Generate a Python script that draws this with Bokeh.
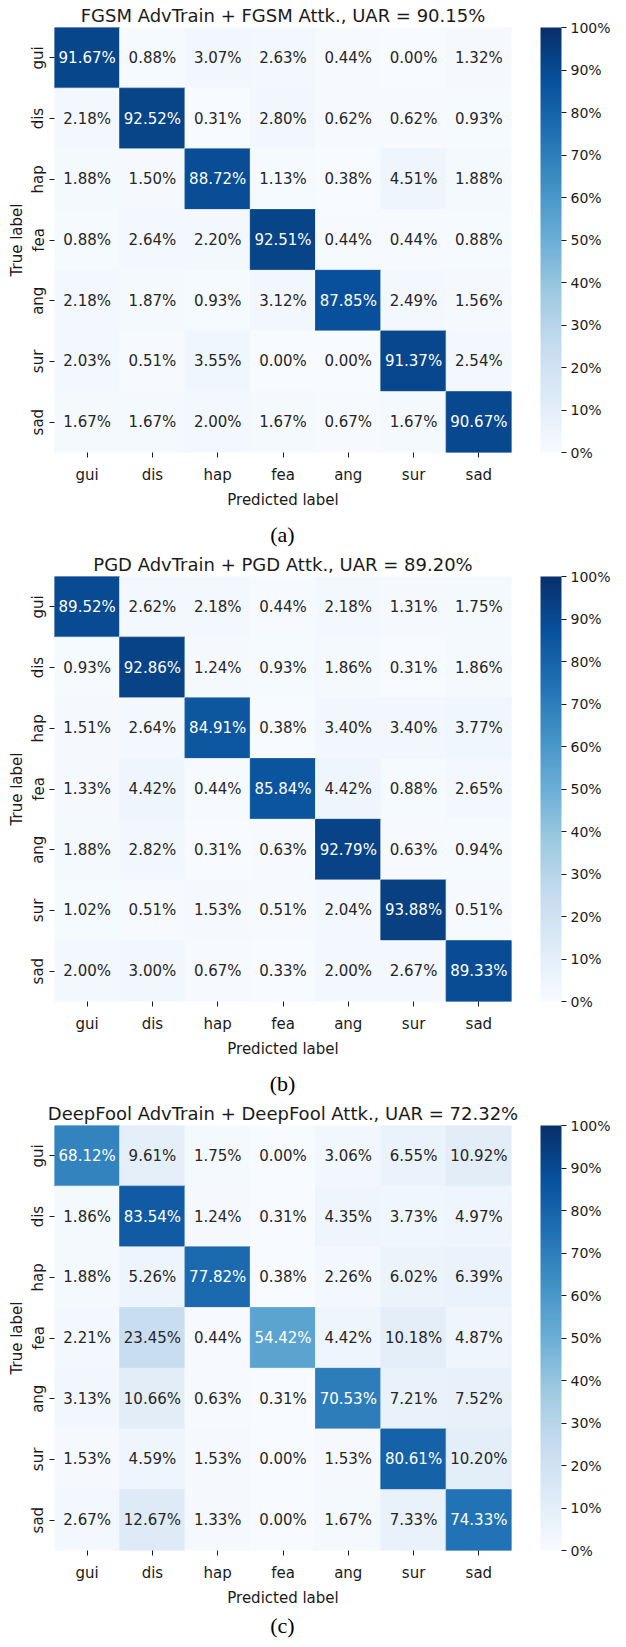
from bokeh.plotting import figure
from bokeh.layouts import column
from bokeh.models import (FactorRange, ColumnDataSource, ColorBar, LinearColorMapper,
                          FixedTicker, Div)
from bokeh.core.properties import value
from bokeh.transform import linear_cmap
from bokeh.embed import file_html
from bokeh.resources import INLINE

# ---------------- data ----------------
labels = ["gui", "dis", "hap", "fea", "ang", "sur", "sad"]

titles = [
    "FGSM AdvTrain + FGSM Attk., UAR = 90.15%",
    "PGD AdvTrain + PGD Attk., UAR = 89.20%",
    "DeepFool AdvTrain + DeepFool Attk., UAR = 72.32%",
]
captions = ["(a)", "(b)", "(c)"]

fgsm = [
    [91.67, 0.88, 3.07, 2.63, 0.44, 0.00, 1.32],
    [2.18, 92.52, 0.31, 2.80, 0.62, 0.62, 0.93],
    [1.88, 1.50, 88.72, 1.13, 0.38, 4.51, 1.88],
    [0.88, 2.64, 2.20, 92.51, 0.44, 0.44, 0.88],
    [2.18, 1.87, 0.93, 3.12, 87.85, 2.49, 1.56],
    [2.03, 0.51, 3.55, 0.00, 0.00, 91.37, 2.54],
    [1.67, 1.67, 2.00, 1.67, 0.67, 1.67, 90.67],
]
pgd = [
    [89.52, 2.62, 2.18, 0.44, 2.18, 1.31, 1.75],
    [0.93, 92.86, 1.24, 0.93, 1.86, 0.31, 1.86],
    [1.51, 2.64, 84.91, 0.38, 3.40, 3.40, 3.77],
    [1.33, 4.42, 0.44, 85.84, 4.42, 0.88, 2.65],
    [1.88, 2.82, 0.31, 0.63, 92.79, 0.63, 0.94],
    [1.02, 0.51, 1.53, 0.51, 2.04, 93.88, 0.51],
    [2.00, 3.00, 0.67, 0.33, 2.00, 2.67, 89.33],
]
deepfool = [
    [68.12, 9.61, 1.75, 0.00, 3.06, 6.55, 10.92],
    [1.86, 83.54, 1.24, 0.31, 4.35, 3.73, 4.97],
    [1.88, 5.26, 77.82, 0.38, 2.26, 6.02, 6.39],
    [2.21, 23.45, 0.44, 54.42, 4.42, 10.18, 4.87],
    [3.13, 10.66, 0.63, 0.31, 70.53, 7.21, 7.52],
    [1.53, 4.59, 1.53, 0.00, 1.53, 80.61, 10.20],
    [2.67, 12.67, 1.33, 0.00, 1.67, 7.33, 74.33],
]
matrices = [fgsm, pgd, deepfool]

cbar_ticks = [0, 10, 20, 30, 40, 50, 60, 70, 80, 90, 100]

# ---------------- palette (matplotlib "Blues") ----------------
blues_anchor = [
    (0.96862745, 0.98431373, 1.0),
    (0.87058824, 0.92156863, 0.96862745),
    (0.77647059, 0.85882353, 0.93725490),
    (0.61960784, 0.79215686, 0.88235294),
    (0.41960784, 0.68235294, 0.83921569),
    (0.25882353, 0.57254902, 0.77647059),
    (0.12941176, 0.44313725, 0.70980392),
    (0.03137255, 0.31764706, 0.61176471),
    (0.03137255, 0.18823529, 0.41960784),
]


def build_palette(anchors, n=256):
    out_hex, out_rgb = [], []
    m = len(anchors) - 1
    for i in range(n):
        t = i / (n - 1) * m
        k = min(int(t), m - 1)
        f = t - k
        c = [anchors[k][j] + (anchors[k + 1][j] - anchors[k][j]) * f for j in range(3)]
        out_rgb.append(c)
        out_hex.append("#%02x%02x%02x" % tuple(int(round(v * 255)) for v in c))
    return out_hex, out_rgb


palette, palette_rgb = build_palette(blues_anchor)


def text_color_for(v):
    idx = min(int(v / 100.0 * 256), 255)
    r, g, b = palette_rgb[idx]

    def lin(c):
        return c / 12.92 if c <= 0.03928 else ((c + 0.055) / 1.055) ** 2.4

    lum = 0.2126 * lin(r) + 0.7152 * lin(g) + 0.0722 * lin(b)
    return "#262626" if lum > 0.408 else "#ffffff"


FONT = "DejaVu Sans"
TXT = "#1a1a1a"


def make_panel(mat, title):
    xs, ys, vals, txt, tcol = [], [], [], [], []
    for i, t in enumerate(labels):
        for j, pl in enumerate(labels):
            v = mat[i][j]
            xs.append(pl)
            ys.append(t)
            vals.append(v)
            txt.append("%.2f%%" % v)
            tcol.append(text_color_for(v))
    src = ColumnDataSource(dict(pred=xs, true=ys, value=vals, label=txt, tcolor=tcol))

    p = figure(frame_width=457, frame_height=425,
               x_range=FactorRange(*labels), y_range=FactorRange(*reversed(labels)),
               output_backend="svg", toolbar_location=None,
               min_border_left=54, min_border_top=25, min_border_bottom=62, min_border_right=40)
    p.outline_line_color = None
    p.xgrid.grid_line_color = None
    p.ygrid.grid_line_color = None

    cmap = linear_cmap("value", palette, 0, 100)
    p.rect(x="pred", y="true", width=1, height=1, source=src,
           fill_color=cmap, line_color=cmap, line_width=1)
    p.text(x="pred", y="true", text="label", source=src,
           text_align="center", text_baseline="middle",
           text_font=value(FONT), text_font_size="15px", text_color="tcolor")

    p.title.text = title
    p.title.align = "center"
    p.title.text_font = FONT
    p.title.text_font_size = "18px"
    p.title.text_font_style = "normal"
    p.title.text_color = TXT
    p.title.standoff = 4

    for ax in (p.xaxis[0], p.yaxis[0]):
        ax.axis_line_color = None
        ax.major_tick_out = 5
        ax.major_tick_in = 0
        ax.major_tick_line_color = TXT
        ax.major_label_text_font = FONT
        ax.major_label_text_font_size = "15px"
        ax.major_label_text_color = TXT
        ax.axis_label_text_font = FONT
        ax.axis_label_text_font_size = "15px"
        ax.axis_label_text_font_style = "normal"
        ax.axis_label_text_color = TXT
    p.xaxis.major_label_standoff = 8
    p.xaxis.axis_label_standoff = 4
    p.yaxis.major_label_standoff = 2
    p.yaxis.axis_label_standoff = 1
    p.xaxis.axis_label = "Predicted label"
    p.yaxis.axis_label = "True label"
    p.yaxis.major_label_orientation = "vertical"

    mapper = LinearColorMapper(palette=palette, low=0, high=100)
    cb = ColorBar(color_mapper=mapper, ticker=FixedTicker(ticks=cbar_ticks),
                  major_label_overrides={t: "%d%%" % t for t in cbar_ticks},
                  width=21, height=425, padding=0, margin=0, location=(29, 0),
                  major_tick_in=0, major_tick_out=5, major_tick_line_color=TXT,
                  major_label_text_font=FONT, major_label_text_font_size="14px",
                  major_label_text_color=TXT, label_standoff=4,
                  bar_line_color=None, border_line_color=None,
                  background_fill_color=None)
    p.add_layout(cb, "right")
    return p


def make_caption(text, h, lh):
    return Div(text=text, width=565, height=h, margin=0,
               styles={"font-family": "Liberation Serif", "font-size": "22px",
                       "line-height": "%dpx" % lh, "text-align": "center",
                       "color": "#000000"})


items = []
cap_heights = [35, 35, 25]
cap_line_heights = [41, 41, 28]
for m, t, c, h, lh in zip(matrices, titles, captions, cap_heights, cap_line_heights):
    items.append(make_panel(m, t))
    items.append(make_caption(c, h, lh))

layout = column(*items, spacing=0)

open("out.html", "w").write(file_html(layout, INLINE))
